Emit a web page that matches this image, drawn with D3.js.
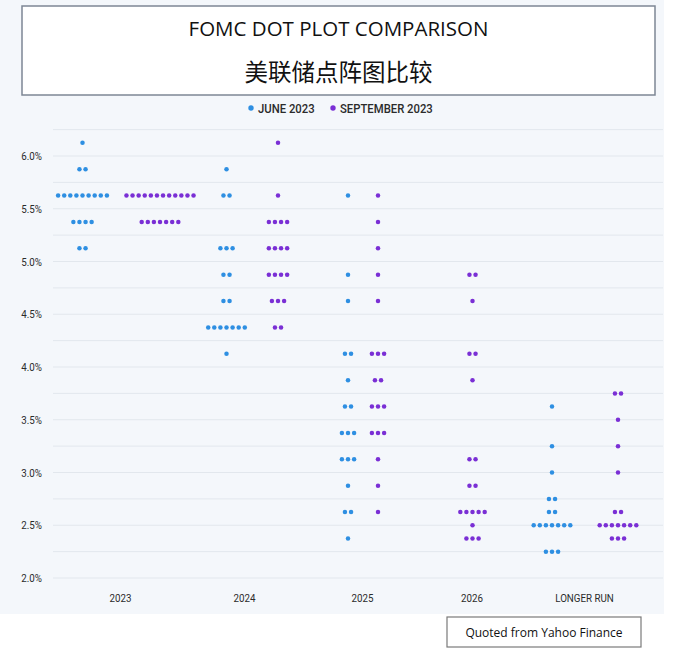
<!DOCTYPE html>
<html>
<head>
<meta charset="utf-8">
<script src="https://cdn.jsdelivr.net/npm/d3@7"></script>
<style>
  body { margin: 0; background: #fff; }
  svg { display: block; }
</style>
</head>
<body>
<svg id="chart" width="676" height="657"></svg>
<script>
// projection columns
const categories = ["2023", "2024", "2025", "2026", "LONGER RUN"];
const seriesNames = ["JUNE 2023", "SEPTEMBER 2023"];

// [rate, number of participants] per column, same order as categories
const juneDots = [
  [[6.125, 1], [5.875, 2], [5.625, 9], [5.375, 4], [5.125, 2]],
  [[5.875, 1], [5.625, 2], [5.125, 3], [4.875, 2], [4.625, 2], [4.375, 7], [4.125, 1]],
  [[5.625, 1], [4.875, 1], [4.625, 1], [4.125, 2], [3.875, 1], [3.625, 2], [3.375, 3],
   [3.125, 3], [2.875, 1], [2.625, 2], [2.375, 1]],
  [],
  [[3.625, 1], [3.25, 1], [3.0, 1], [2.75, 2], [2.625, 2], [2.5, 7], [2.25, 3]]
];
const septDots = [
  [[5.625, 12], [5.375, 7]],
  [[6.125, 1], [5.625, 1], [5.375, 4], [5.125, 4], [4.875, 4], [4.625, 3], [4.375, 2]],
  [[5.625, 1], [5.375, 1], [5.125, 1], [4.875, 1], [4.625, 1], [4.125, 3], [3.875, 2],
   [3.625, 3], [3.375, 3], [3.125, 1], [2.875, 1], [2.625, 1]],
  [[4.875, 2], [4.625, 1], [4.125, 2], [3.875, 1], [3.125, 2], [2.875, 2], [2.625, 5],
   [2.5, 1], [2.375, 3]],
  [[3.75, 2], [3.5, 1], [3.25, 1], [3.0, 1], [2.625, 2], [2.5, 7], [2.375, 3]]
];
const yTicks = [2.0, 2.5, 3.0, 3.5, 4.0, 4.5, 5.0, 5.5, 6.0];

// layout
const colours = ["#2e8fe2", "#7a2fd5"];
const tickX = [120, 244, 362, 471.5, 584];      // column label positions
const groupShift = [                            // cluster centre offset from label
  [-37.5, -17.5, -14, 0, -32],
  [40, 34, 16, 1, 34]
];
const dotGap = 6.1, dotR = 2.25;
const labelFont = "Roboto, 'Noto Sans', sans-serif";

// no condensed face installed, so squeeze the glyphs a bit
function condense(sel, k) {
  sel.each(function() {
    const w = this.getComputedTextLength();
    d3.select(this).attr("textLength", w * k).attr("lengthAdjust", "spacingAndGlyphs");
  });
}

const svg = d3.select("#chart");

svg.append("rect")
  .attr("width", 664).attr("height", 614)
  .attr("fill", "#f4f7fb");

// title box
svg.append("rect")
  .attr("x", 22).attr("y", 6).attr("width", 633).attr("height", 89)
  .attr("fill", "#fff").attr("stroke", "#7d8795").attr("stroke-width", 1.5);

svg.append("text")
  .attr("x", 338.5).attr("y", 35.5)
  .attr("text-anchor", "middle")
  .style("font", "20.5px 'Open Sans', sans-serif")
  .attr("fill", "#111")
  .text("FOMC DOT PLOT COMPARISON");

svg.append("text")
  .attr("x", 338.5).attr("y", 81)
  .attr("text-anchor", "middle")
  .style("font", "23.5px 'Noto Sans CJK SC', sans-serif")
  .attr("fill", "#111")
  .text("美联储点阵图比较");

// legend
const legend = svg.append("g").attr("transform", "translate(251,108)");
const legendX = [0, 82];
seriesNames.forEach((name, i) => {
  const item = legend.append("g").attr("transform", `translate(${legendX[i]},0)`);
  item.append("circle").attr("r", 2.7).attr("fill", colours[i]);
  item.append("text")
    .attr("x", 7).attr("dy", "0.36em")
    .style("font", `500 13px ${labelFont}`)
    .attr("fill", "#2b2b2b")
    .text(name)
    .call(condense, 0.87);
});

// scales
const y = d3.scaleLinear().domain([2.0, 6.0]).range([578, 156]);
const x = d3.scaleOrdinal().domain(categories).range(tickX);

// grid every quarter point
svg.append("g")
  .selectAll("line")
  .data(d3.range(2.0, 6.26, 0.25))
  .join("line")
  .attr("x1", 53).attr("x2", 663)
  .attr("y1", d => y(d)).attr("y2", d => y(d))
  .attr("stroke", "#e2e7ed").attr("stroke-width", 1);

// y axis labels
svg.append("g")
  .attr("transform", "translate(42,0)")
  .call(d3.axisLeft(y).tickValues(yTicks).tickSize(0).tickPadding(0)
    .tickFormat(d => d3.format(".1f")(d) + "%"))
  .call(g => g.select(".domain").remove())
  .call(g => g.selectAll("text")
    .style("font", `11.5px ${labelFont}`).attr("fill", "#2b2b2b")
    .call(condense, 0.85));

// x axis labels
svg.append("g")
  .attr("transform", "translate(0,594)")
  .call(d3.axisBottom(x).tickSize(0).tickPadding(0))
  .call(g => g.select(".domain").remove())
  .call(g => g.selectAll("text")
    .style("font", `11.5px ${labelFont}`).attr("fill", "#2b2b2b")
    .call(condense, 0.85));

// dots
[juneDots, septDots].forEach((series, s) => {
  const dots = [];
  series.forEach((rows, c) => {
    rows.forEach(([rate, n]) => {
      for (let i = 0; i < n; i++) {
        dots.push({ cat: categories[c], c, rate, k: i - (n - 1) / 2 });
      }
    });
  });
  svg.append("g")
    .selectAll("circle")
    .data(dots)
    .join("circle")
    .attr("cx", d => x(d.cat) + groupShift[s][d.c] + d.k * dotGap)
    .attr("cy", d => y(d.rate))
    .attr("r", dotR)
    .attr("fill", colours[s]);
});

// source note
svg.append("rect")
  .attr("x", 447).attr("y", 617).attr("width", 194).attr("height", 30)
  .attr("fill", "#fff").attr("stroke", "#7a7a7a").attr("stroke-width", 1.2);
svg.append("text")
  .attr("x", 544).attr("y", 636.5)
  .attr("text-anchor", "middle")
  .style("font", "12px 'Open Sans', sans-serif")
  .attr("fill", "#111")
  .text("Quoted from Yahoo Finance");
</script>
</body>
</html>
